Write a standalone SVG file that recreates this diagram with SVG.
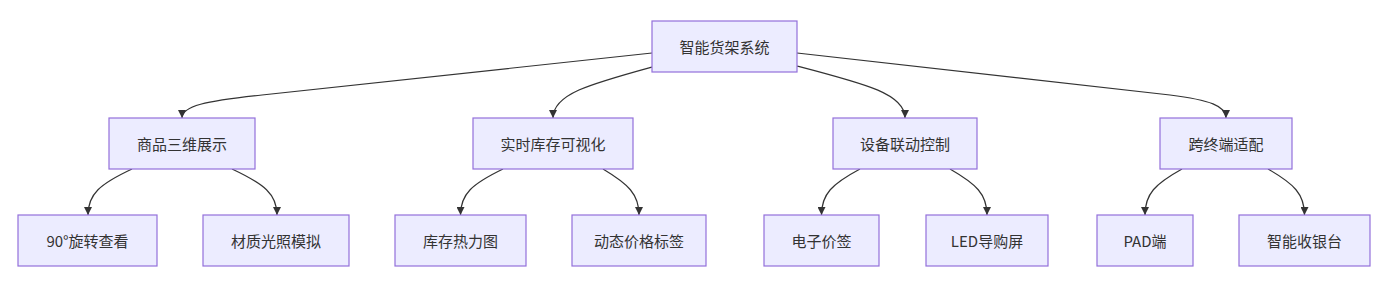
<svg xmlns="http://www.w3.org/2000/svg" width="1388" height="290" viewBox="0 0 1388 290">
<style>
.node rect{fill:#ECECFF;stroke:#9370DB;stroke-width:1.2}
.node text{font-family:"Noto Sans CJK SC","Noto Sans",sans-serif;font-size:15px;fill:#333;text-anchor:middle;dominant-baseline:central}
.edge{fill:none;stroke:#333;stroke-width:1.2}
</style>
<defs>
<marker id="arrow" viewBox="0 0 10 10" refX="10" refY="5" markerWidth="8" markerHeight="8" markerUnits="userSpaceOnUse" orient="auto">
<path d="M0,0 L10,5 L0,10 z" fill="#333"/>
</marker>
</defs>
<rect width="1388" height="290" fill="#fff"/>
<g id="connectors">
<path class="edge" marker-end="url(#arrow)" d="M652,53 L262,95 C205,101 182,106 182,118"/>
<path class="edge" marker-end="url(#arrow)" d="M652,67 C590,84 553,94 553,118"/>
<path class="edge" marker-end="url(#arrow)" d="M797,66 C866,84 905,94 905,118"/>
<path class="edge" marker-end="url(#arrow)" d="M797,53 L1170,95 C1210,100 1226,106 1226,118"/>
<path class="edge" marker-end="url(#arrow)" d="M132,169 C100,184 88,194 88,215"/>
<path class="edge" marker-end="url(#arrow)" d="M232,169 C264,184 277,194 277,215"/>
<path class="edge" marker-end="url(#arrow)" d="M503,169 C472,184 460.5,194 460.5,215"/>
<path class="edge" marker-end="url(#arrow)" d="M603,169 C628,184 639,194 639,215"/>
<path class="edge" marker-end="url(#arrow)" d="M860,169 C832,184 821.5,194 821.5,215"/>
<path class="edge" marker-end="url(#arrow)" d="M950,169 C976,184 987,194 987,215"/>
<path class="edge" marker-end="url(#arrow)" d="M1182,169 C1155,184 1145,194 1145,215"/>
<path class="edge" marker-end="url(#arrow)" d="M1268,169 C1294,184 1304.5,194 1304.5,215"/>
</g>
<g id="root" class="node"><rect x="652" y="21" width="145" height="51"/><text x="724.5" y="46.5">智能货架系统</text></g>
<g id="n1" class="node"><rect x="109" y="118" width="146" height="51"/><text x="182" y="143.5">商品三维展示</text></g>
<g id="n2" class="node"><rect x="473" y="118" width="160" height="51"/><text x="553" y="143.5">实时库存可视化</text></g>
<g id="n3" class="node"><rect x="833" y="118" width="144" height="51"/><text x="905" y="143.5">设备联动控制</text></g>
<g id="n4" class="node"><rect x="1160" y="118" width="132" height="51"/><text x="1226" y="143.5">跨终端适配</text></g>
<g id="n11" class="node"><rect x="18" y="215" width="139" height="51"/><text x="87.5" y="240.5">90°旋转查看</text></g>
<g id="n12" class="node"><rect x="203" y="215" width="146" height="51"/><text x="276" y="240.5">材质光照模拟</text></g>
<g id="n21" class="node"><rect x="395" y="215" width="131" height="51"/><text x="460.5" y="240.5">库存热力图</text></g>
<g id="n22" class="node"><rect x="572" y="215" width="134" height="51"/><text x="639" y="240.5">动态价格标签</text></g>
<g id="n31" class="node"><rect x="764" y="215" width="115" height="51"/><text x="821.5" y="240.5">电子价签</text></g>
<g id="n32" class="node"><rect x="926" y="215" width="122" height="51"/><text x="987" y="240.5">LED导购屏</text></g>
<g id="n41" class="node"><rect x="1097" y="215" width="96" height="51"/><text x="1145" y="240.5">PAD端</text></g>
<g id="n42" class="node"><rect x="1239" y="215" width="131" height="51"/><text x="1304.5" y="240.5">智能收银台</text></g>
</svg>
